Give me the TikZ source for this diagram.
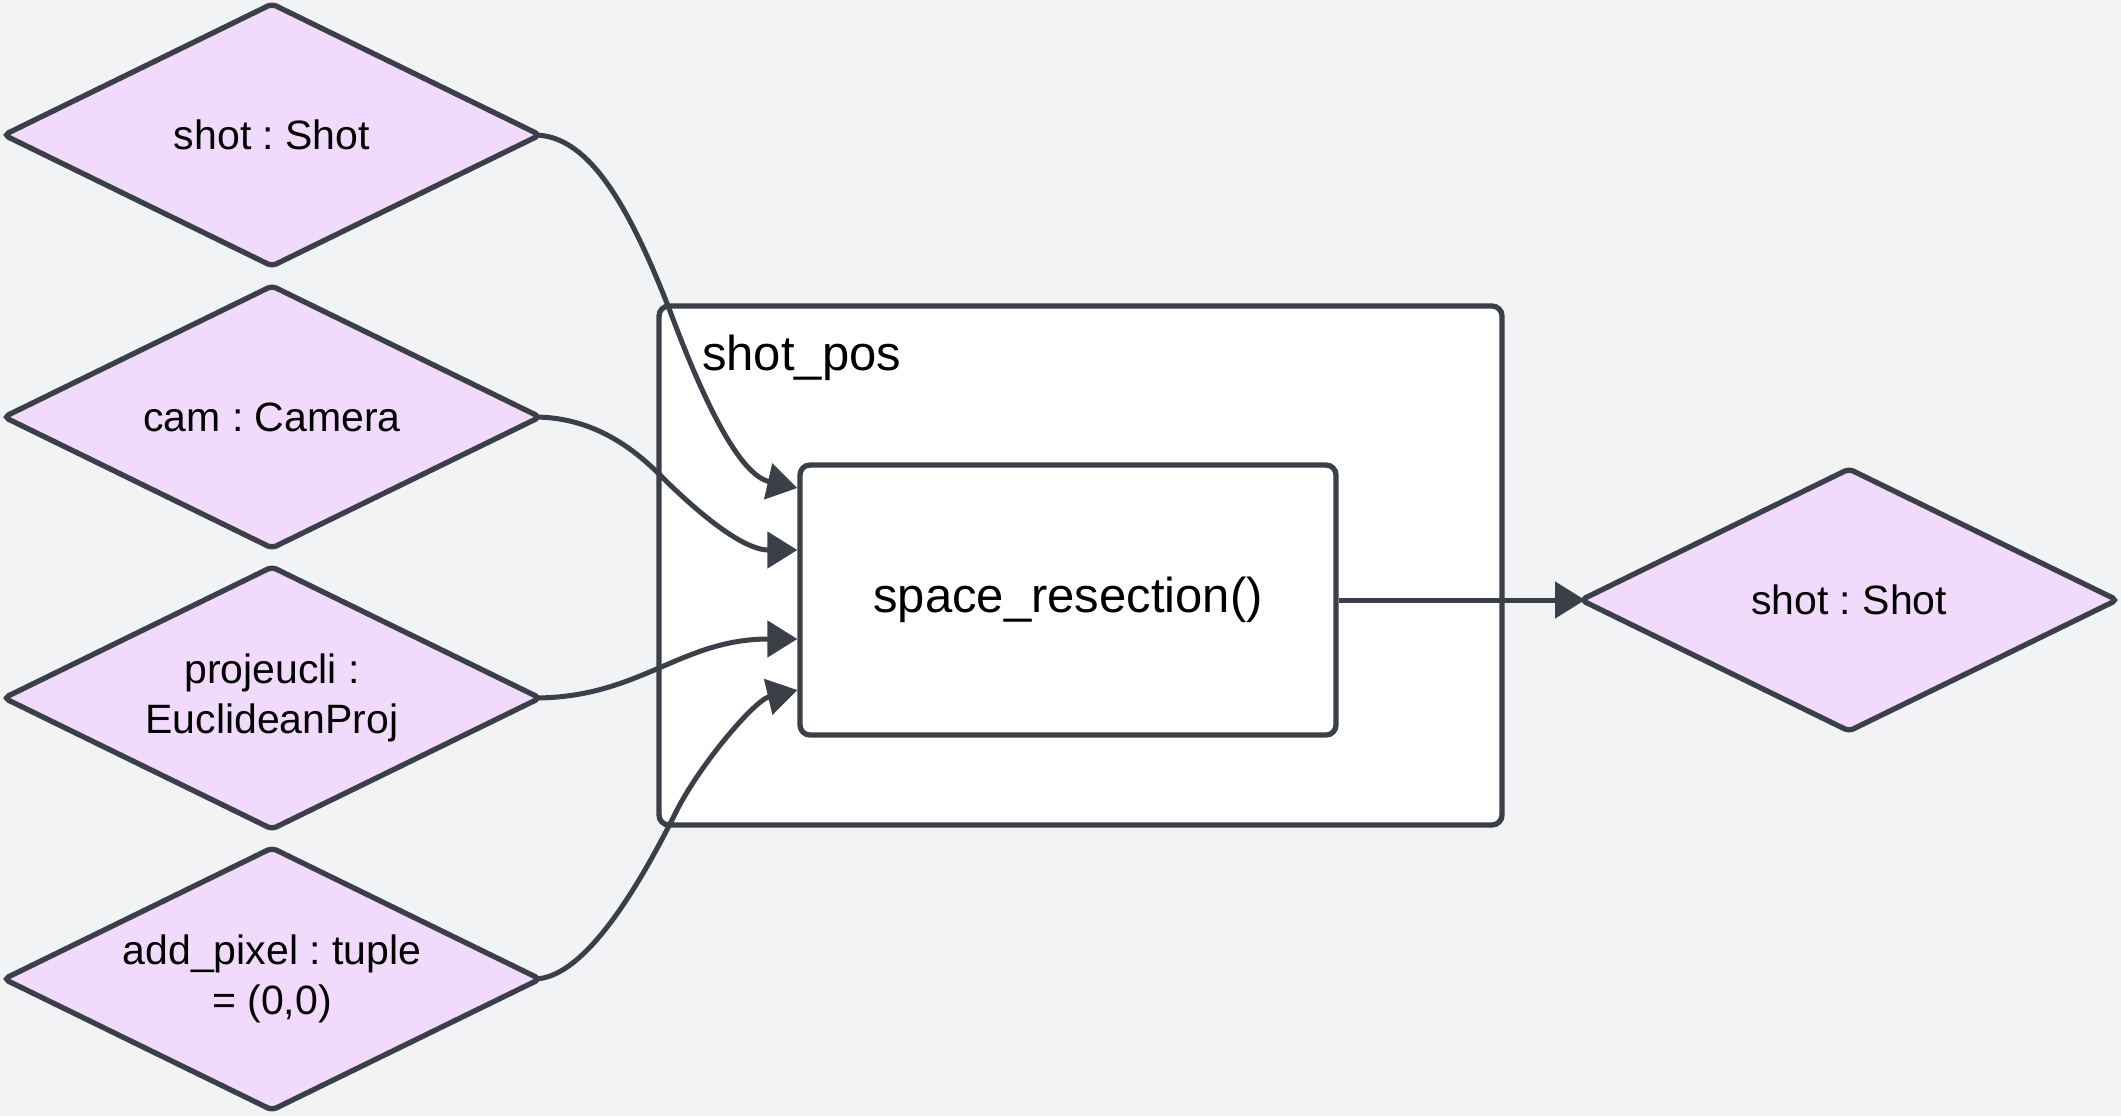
\documentclass[tikz,border=0pt]{standalone}
\usepackage{fontspec}
\setmainfont{Liberation Sans}
\usetikzlibrary{shapes.geometric,arrows.meta}
\definecolor{lc}{HTML}{3A3F48}
\definecolor{dfill}{HTML}{F2DAFD}
\definecolor{bg}{HTML}{F2F3F5}
\frenchspacing
\begin{document}
\begin{tikzpicture}[x=1pt,y=-1pt,
  datanode/.style={diamond, draw=lc, fill=dfill, line width=5.3pt, minimum width=536pt, minimum height=262pt, aspect=2, inner sep=0pt, outer sep=0pt, rounded corners=5pt, align=center, font=\fontsize{41}{50}\selectfont},
  funcnode/.style={rectangle, draw=lc, fill=white, line width=5.3pt, minimum width=536pt, minimum height=270pt, rounded corners=10pt, font=\fontsize{49}{58}\selectfont},
  clusterbox/.style={draw=lc, fill=white, line width=5.3pt, rounded corners=10pt},
  clusterlabel/.style={anchor=base west, inner sep=0pt, font=\fontsize{49}{58}\selectfont},
  flow/.style={draw=lc, line width=5pt, line join=round, -{Triangle[length=30pt,width=36pt]}},
]
\path[fill=bg] (0,0) rectangle (2121,1116);
\useasboundingbox (0,0) rectangle (2121,1116);
\draw[clusterbox] (659,306) rectangle (1502,825);
\node[clusterlabel] (lbl) at (702,370) {shot\_pos};
\node[funcnode] (fn) at (1068,600) {space\_resection()};
\node[datanode] (d1) at (272,135) {shot : Shot};
\node[datanode] (d2) at (272,417) {cam : Camera};
\node[datanode] (d3) at (272,698) {projeucli :\\EuclideanProj};
\node[datanode] (d4) at (272,979) {add\_pixel : tuple\\= (0,0)};
\node[datanode] (out) at (1849,600) {shot : Shot};
\draw[flow] ([xshift=-6pt]d1.east) .. controls (585,135) and (625,195) .. (670,311) .. controls (705,405) and (740,475) .. ([yshift=112pt]fn.west);
\draw[flow] ([xshift=-6pt]d2.east) .. controls (590,417) and (630,445) .. (660,475) .. controls (690,505) and (740,550) .. ([yshift=50pt]fn.west);
\draw[flow] ([xshift=-6pt]d3.east) .. controls (640,698) and (680,639) .. ([yshift=-39pt]fn.west);
\draw[flow] ([xshift=-6pt]d4.east) .. controls (585,979) and (640,884) .. (676,812) .. controls (700,764) and (755,700) .. ([yshift=-90pt]fn.west);
\draw[flow] (fn.east) -- ([xshift=4pt]out.west);
\end{tikzpicture}
\end{document}
